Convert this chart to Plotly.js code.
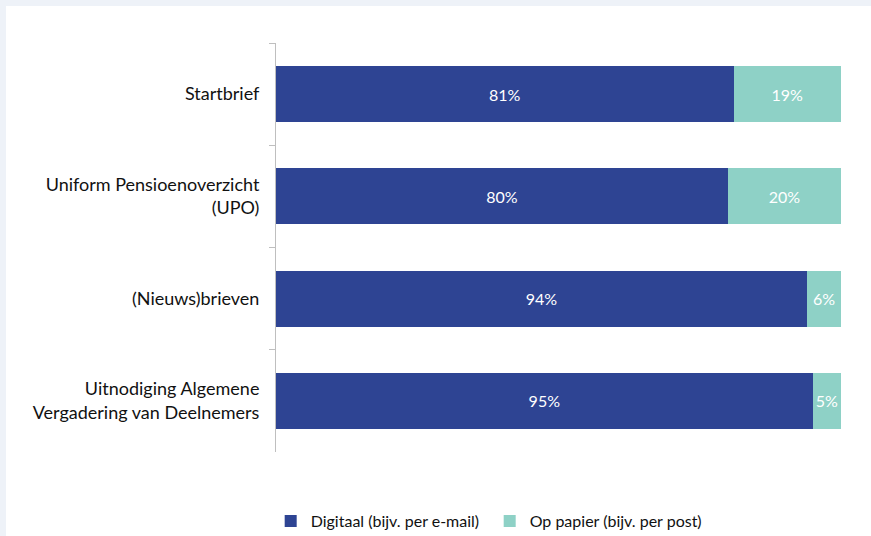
<!DOCTYPE html>
<html>
<head>
<meta charset="utf-8">
<script src="https://cdn.plot.ly/plotly-3.0.1.min.js"></script>
<style>
html,body{margin:0;padding:0;background:#EEF2F8;width:871px;height:536px;overflow:hidden;}
#chart{position:absolute;left:6px;top:6px;width:865px;height:530px;background:#fff;}
</style>
</head>
<body>
<div id="chart"></div>
<script>
var categories = ["Startbrief", "Uniform Pensioenoverzicht<br>(UPO)", "(Nieuws)brieven", "Uitnodiging Algemene<br>Vergadering van Deelnemers"];
var digitaal = [81, 80, 94, 95];
var papier = [19, 20, 6, 5];
var seriesNames = ["Digitaal (bijv. per e-mail)", "Op papier (bijv. per post)"];

function pct(arr){ return arr.map(function(v){ return v + "%"; }); }

var common = {
  type: "bar", orientation: "h", y: categories,
  textposition: "inside", insidetextanchor: "middle",
  textangle: 0, constraintext: "none", cliponaxis: false,
  textfont: {color: "#ffffff", size: 16, family: "Lato, sans-serif"},
  hoverinfo: "none"
};
var t1 = Object.assign({}, common, {x: digitaal, text: pct(digitaal), name: seriesNames[0], marker: {color: "#2E4493"}});
var t2 = Object.assign({}, common, {x: papier, text: pct(papier), name: seriesNames[1], marker: {color: "#8ED1C6"}});

var layout = {
  width: 865, height: 530,
  paper_bgcolor: "#ffffff", plot_bgcolor: "#ffffff",
  barmode: "stack", bargap: 0.45,
  margin: {l: 270, r: 30, t: 37, b: 84, autoexpand: false},
  font: {family: "Lato, sans-serif", size: 16, color: "#111111"},
  xaxis: {range: [0, 100], visible: false, showgrid: false, zeroline: false, fixedrange: true},
  yaxis: {autorange: "reversed", showline: true, linecolor: "#BFBFBF", linewidth: 1,
          ticks: "outside", tickson: "boundaries", ticklen: 6, tickcolor: "#BFBFBF",
          ticklabelstandoff: 12, tickfont: {size: 18, color: "#111111"}, showgrid: false, zeroline: false,
          automargin: false},
  showlegend: true,
  legend: {orientation: "h", xref: "container", yref: "container", x: 0.306, xanchor: "left",
           y: 0.028, yanchor: "middle",
           font: {size: 16, color: "#111111"}, traceorder: "normal", itemwidth: 30, entrywidth: 174}
};

Plotly.newPlot("chart", [t1, t2], layout, {displayModeBar: false, staticPlot: true});
</script>
</body>
</html>
